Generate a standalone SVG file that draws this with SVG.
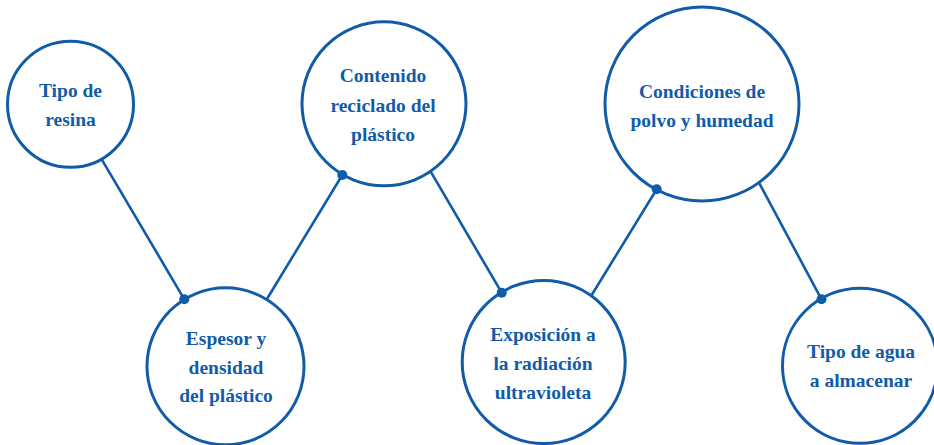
<svg xmlns="http://www.w3.org/2000/svg" width="934" height="445" viewBox="0 0 934 445">
<style>
.node circle{fill:#fff;stroke:#115ca8;stroke-width:3}
.node text{font-family:'Liberation Serif','DejaVu Serif',serif;font-weight:700;font-size:19.5px;fill:#115ca8;text-anchor:middle}
.conn line{stroke:#115ca8;stroke-width:2.6;stroke-linecap:round}
.conn circle{fill:#115ca8}
</style>
<rect width="934" height="445" fill="#fff"/>
<g class="conn" id="connectors">
<line x1="101.7" y1="159.3" x2="184.3" y2="299.3"/>
<line x1="267.7" y1="297.7" x2="342.3" y2="175"/>
<line x1="430.7" y1="171.7" x2="501.7" y2="292.7"/>
<line x1="591.7" y1="295" x2="656.7" y2="189.3"/>
<line x1="759" y1="182.7" x2="821.5" y2="299.3"/>
</g>
<g class="node" id="n1">
<circle cx="70.5" cy="104.3" r="63"/>
<text x="70.5" y="97">Tipo de</text>
<text x="70.5" y="126">resina</text>
</g>
<g class="node" id="n2">
<circle cx="225.5" cy="366.3" r="78.5"/>
<text x="226" y="345">Espesor y</text>
<text x="226" y="373.5">densidad</text>
<text x="226" y="402.3">del plástico</text>
</g>
<g class="node" id="n3">
<circle cx="384" cy="103.8" r="82"/>
<text x="383" y="82">Contenido</text>
<text x="383" y="111.5">reciclado del</text>
<text x="383" y="140.5">plástico</text>
</g>
<g class="node" id="n4">
<circle cx="543.7" cy="362" r="81.5"/>
<text x="543" y="341">Exposición a</text>
<text x="543" y="370">la radiación</text>
<text x="543" y="399.3">ultravioleta</text>
</g>
<g class="node" id="n5">
<circle cx="702" cy="104" r="97"/>
<text x="702" y="97.7">Condiciones de</text>
<text x="702" y="126.7">polvo y humedad</text>
</g>
<g class="node" id="n6">
<circle cx="860" cy="365.8" r="77.5"/>
<text x="861" y="358.3">Tipo de agua</text>
<text x="861" y="387.3">a almacenar</text>
</g>
<g class="conn" id="dots">
<circle cx="184.3" cy="299.3" r="5"/>
<circle cx="342.3" cy="175" r="5"/>
<circle cx="501.7" cy="292.7" r="5"/>
<circle cx="656.7" cy="189.3" r="5"/>
<circle cx="821.5" cy="299.3" r="5"/>
</g>
</svg>
